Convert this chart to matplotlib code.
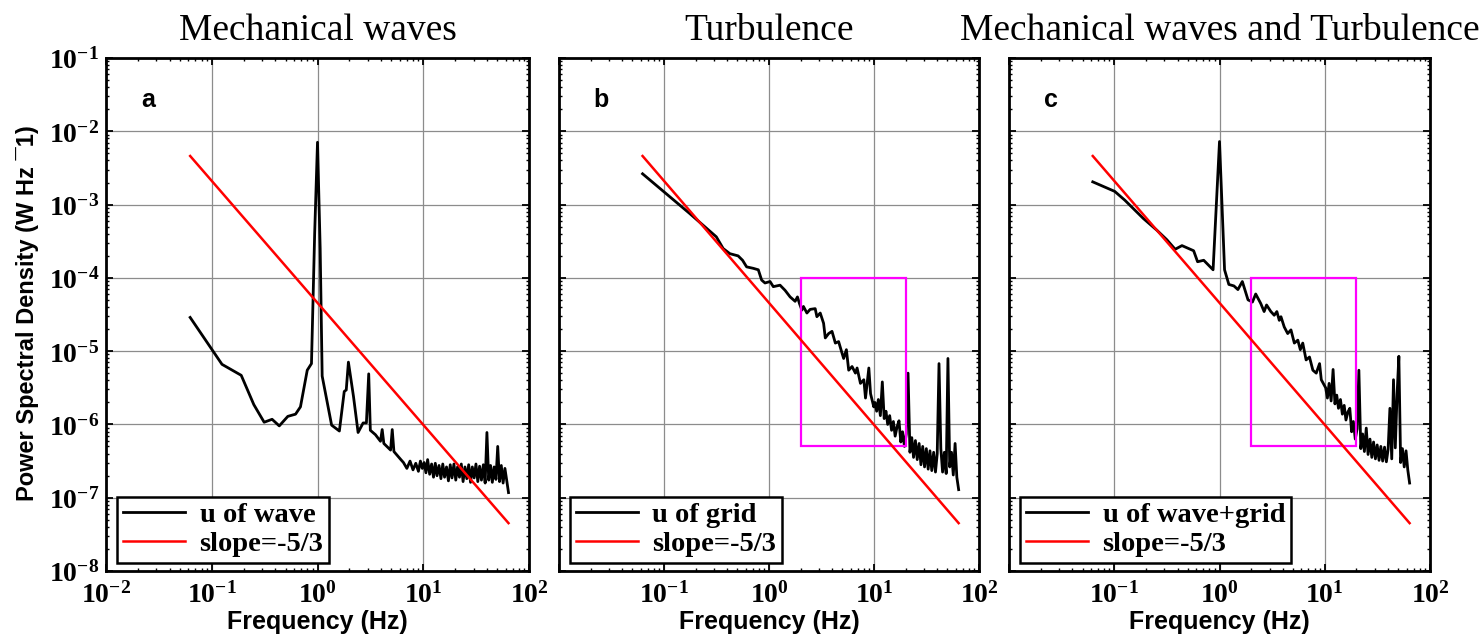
import numpy as np
import matplotlib
matplotlib.use("Agg")
import matplotlib.pyplot as plt
from matplotlib.patches import Rectangle
from matplotlib.ticker import FixedLocator, LogLocator, FuncFormatter, NullFormatter

plt.rcParams.update({
    "mathtext.fontset": "custom",
    "mathtext.rm": "Liberation Serif:bold",
    "mathtext.bf": "Liberation Serif:bold",
    "mathtext.it": "Liberation Serif:bold:italic",
})

# ---------------------------------------------------------------------
# spectra (frequency in Hz, PSD as log10)
# low-frequency part, one list per panel
f_wave = [0.0625, 0.125, 0.19, 0.25, 0.313, 0.372, 0.435, 0.524, 0.62, 0.69,
          0.80, 0.877, 0.94, 1.0, 1.06, 1.107, 1.36, 1.61, 1.79, 1.87,
          1.96, 2.19, 2.42, 2.70, 2.90, 3.05, 3.16, 3.53, 3.94, 4.09,
          4.24, 4.91, 5.09, 5.28, 6.14, 6.5, 7.0, 7.5, 8.0, 8.5,
          9.0, 9.4, 9.8]
psd_wave = [-4.54, -5.18, -5.33, -5.73, -5.97, -5.93, -6.02, -5.89, -5.86, -5.76,
            -5.26, -5.17, -3.40, -2.15, -3.60, -5.34, -6.01, -6.09, -5.55, -5.53,
            -5.15, -5.62, -6.11, -5.98, -5.98, -5.31, -6.08, -6.14, -6.23, -6.07,
            -6.26, -6.35, -6.07, -6.37, -6.48, -6.52, -6.60, -6.50, -6.62, -6.53,
            -6.64, -6.50, -6.60]

f_grid = [0.0625, 0.175, 0.315, 0.366, 0.424, 0.508, 0.56, 0.612, 0.708, 0.791,
          0.851, 0.916, 1.023, 1.099, 1.274, 1.422, 1.589, 1.774, 1.866, 1.95,
          2.056, 2.128, 2.296, 2.466, 2.754, 2.858, 3.076, 3.311, 3.436, 3.698,
          3.981, 4.285, 4.603, 4.966, 5.14, 5.458, 5.741, 6.18, 6.653, 6.902,
          7.43, 8.0, 8.3, 8.93, 9.27, 9.95]
psd_grid = [-2.58, -3.12, -3.44, -3.60, -3.67, -3.70, -3.76, -3.85, -3.87, -3.89,
            -4.03, -4.07, -4.05, -4.12, -4.10, -4.17, -4.26, -4.32, -4.26, -4.35,
            -4.44, -4.39, -4.48, -4.43, -4.42, -4.53, -4.48, -4.62, -4.82, -4.76,
            -4.73, -4.89, -4.87, -5.03, -5.10, -4.98, -5.26, -5.21, -5.30, -5.23,
            -5.44, -5.39, -5.64, -5.23, -5.58, -5.76]

f_both = [0.0625, 0.101, 0.126, 0.189, 0.254, 0.316, 0.379, 0.44, 0.568, 0.619,
          0.708, 0.869, 1.0, 1.117, 1.227, 1.371, 1.496, 1.648, 1.866, 2.056,
          2.208, 2.466, 2.655, 2.8, 3.076, 3.311, 3.508, 3.698, 3.837, 4.121,
          4.446, 4.775, 5.14, 5.546, 5.86, 6.18, 6.65, 7.16, 7.71, 8.3,
          8.93, 9.27]
psd_both = [-2.69, -2.82, -2.94, -3.19, -3.35, -3.48, -3.61, -3.56, -3.63, -3.78,
            -3.76, -3.89, -2.14, -3.89, -4.09, -4.11, -4.16, -4.05, -4.30, -4.33,
            -4.22, -4.35, -4.46, -4.37, -4.46, -4.51, -4.46, -4.58, -4.53, -4.67,
            -4.76, -4.71, -4.89, -4.85, -4.98, -4.89, -5.12, -5.08, -5.26, -5.30,
            -5.17, -5.39]

# high-frequency (noisy) part, shared frequencies
f_tail = [10.2, 10.6, 11.0, 11.5, 12.0, 12.5, 13.0, 13.5, 14.1, 14.7,
          15.3, 15.9, 16.6, 17.3, 18.0, 18.7, 19.5, 20.3, 21.1, 22.0,
          22.9, 23.8, 24.8, 25.8, 26.9, 28.0, 29.1, 30.3, 31.5, 32.8,
          34.1, 35.5, 37.0, 38.5, 40.0, 41.6, 43.3, 45.0, 46.8, 48.7,
          50.6, 52.6, 54.7, 56.9, 59.2, 61.5, 64.0]
tail_wave = [-6.52, -6.66, -6.48, -6.68, -6.54, -6.72, -6.53, -6.70, -6.56, -6.74,
             -6.54, -6.72, -6.58, -6.77, -6.55, -6.73, -6.54, -6.76, -6.58, -6.72,
             -6.54, -6.78, -6.58, -6.74, -6.55, -6.79, -6.58, -6.73, -6.54, -6.78,
             -6.57, -6.76, -6.55, -6.80, -6.11, -6.76, -6.56, -6.79, -6.58, -6.75,
             -6.30, -6.78, -6.56, -6.80, -6.60, -6.76, -6.93]
tail_grid = [-5.70, -5.82, -5.66, -5.88, -5.42, -5.92, -5.82, -6.00, -5.88, -6.08,
             -5.96, -6.16, -6.03, -5.95, -6.24, -6.10, -6.30, -6.13, -5.30, -6.38,
             -6.18, -6.45, -6.22, -6.48, -6.26, -6.55, -6.30, -6.58, -6.33, -6.61,
             -6.36, -6.63, -6.38, -6.65, -6.40, -5.17, -6.33, -6.65, -6.38, -6.67,
             -5.10, -6.58, -6.38, -6.69, -6.26, -6.72, -6.89]
tail_both = [-5.50, -5.64, -5.44, -5.68, -5.25, -5.72, -5.60, -5.78, -5.66, -5.86,
             -5.74, -5.94, -5.83, -5.78, -6.10, -5.96, -6.20, -6.06, -5.26, -6.33,
             -6.13, -6.37, -6.05, -6.41, -6.20, -6.45, -6.24, -6.47, -6.28, -6.49,
             -6.30, -6.50, -6.31, -6.51, -6.34, -5.78, -6.47, -5.39, -6.32, -5.58,
             -5.07, -6.52, -6.33, -6.58, -6.36, -6.62, -6.80]

# -5/3 reference line end points
slope_f = [0.0625, 64.0]
slope_psd = [4.6e-3, 4.5e-8]

# inertial-range box (panels b, c)
box_f = [2.0, 20.0]
box_psd = [5e-7, 1e-4]

x_decades = [1e-2, 1e-1, 1e0, 1e1, 1e2]
y_decades = [1e-8, 1e-7, 1e-6, 1e-5, 1e-4, 1e-3, 1e-2, 1e-1]

titles = ["Mechanical waves", "Turbulence", "Mechanical waves and Turbulence"]
letters = ["a", "b", "c"]
labels = ["u of wave", "u of grid", "u of wave+grid"]

# ---------------------------------------------------------------------
W, H = 1484, 640
fig = plt.figure(figsize=(W / 100, H / 100), dpi=100)
rects = [(106, 423), (559, 420), (1009, 421)]
bottom, top = 571, 58

panels = [
    (f_wave + f_tail, psd_wave + tail_wave, False),
    (f_grid + f_tail, psd_grid + tail_grid, True),
    (f_both + f_tail, psd_both + tail_both, True),
]


def dec_label(first_hidden):
    def fmt(v, pos):
        e = int(round(np.log10(v)))
        if first_hidden and e == -2:
            return ""
        return r"$10^{%d}$" % e
    return FuncFormatter(fmt)


for i, (f, p, has_box) in enumerate(panels):
    x0, w = rects[i]
    ax = fig.add_axes([x0 / W, (H - bottom) / H, w / W, (bottom - top) / H])
    ax.set_xscale("log")
    ax.set_yscale("log")
    ax.set_xlim(1e-2, 1e2)
    ax.set_ylim(1e-8, 1e-1)

    ax.grid(True, which="major", color="0.55", lw=0.9)
    ax.set_axisbelow(True)

    ax.plot(f, 10 ** np.array(p), color="black", lw=2.0, label=labels[i])
    if has_box:
        ax.add_patch(Rectangle((box_f[0], box_psd[0]), box_f[1] - box_f[0],
                               box_psd[1] - box_psd[0], fill=False,
                               edgecolor="#ff00ff", lw=1.6, zorder=3))
    ax.plot(slope_f, slope_psd, color="#ff0000", lw=1.8, label="slope=-5/3", zorder=4)

    ax.xaxis.set_major_locator(FixedLocator(x_decades))
    ax.yaxis.set_major_locator(FixedLocator(y_decades))
    for loc in (ax.xaxis, ax.yaxis):
        loc.set_minor_locator(LogLocator(base=10, subs=np.arange(2, 10), numticks=100))
        loc.set_minor_formatter(NullFormatter())
    ax.xaxis.set_major_formatter(dec_label(i > 0))
    if i == 0:
        ax.yaxis.set_major_formatter(dec_label(False))
    else:
        ax.yaxis.set_major_formatter(NullFormatter())

    ax.tick_params(which="both", direction="in", top=True, right=True,
                   labelsize=20)
    ax.tick_params(which="major", length=5, width=1.3)
    ax.tick_params(which="minor", length=2.5, width=1.0)
    ax.tick_params(axis="x", pad=7)
    ax.tick_params(axis="y", pad=5)
    for s in ax.spines.values():
        s.set_linewidth(2.0)

    ax.set_title(titles[i], fontsize=27, family="Liberation Serif", pad=13)
    ax.set_xlabel("Frequency (Hz)", fontsize=18, fontweight="bold",
                  family="Liberation Sans", labelpad=1)
    ax.text(0.099, 0.918, letters[i], transform=ax.transAxes, fontsize=18,
            fontweight="bold", family="Liberation Sans", ha="center", va="center")

    leg = ax.legend(loc="lower left", bbox_to_anchor=(0.026, 0.016),
                    borderaxespad=0, fancybox=False, framealpha=1,
                    edgecolor="black", handlelength=2.2, handletextpad=0.5,
                    borderpad=0.2, labelspacing=0.1,
                    prop={"family": "Liberation Serif", "weight": "bold", "size": 20.5})
    leg.get_frame().set_linewidth(1.8)

fig.text(28 / W, 1 - 313 / H, "Power Spectral Density (W Hz \u00af1)",
         rotation=90, ha="center", va="center", fontsize=17,
         fontweight="bold", family="Liberation Sans")

fig.savefig("out.png", dpi=100)
